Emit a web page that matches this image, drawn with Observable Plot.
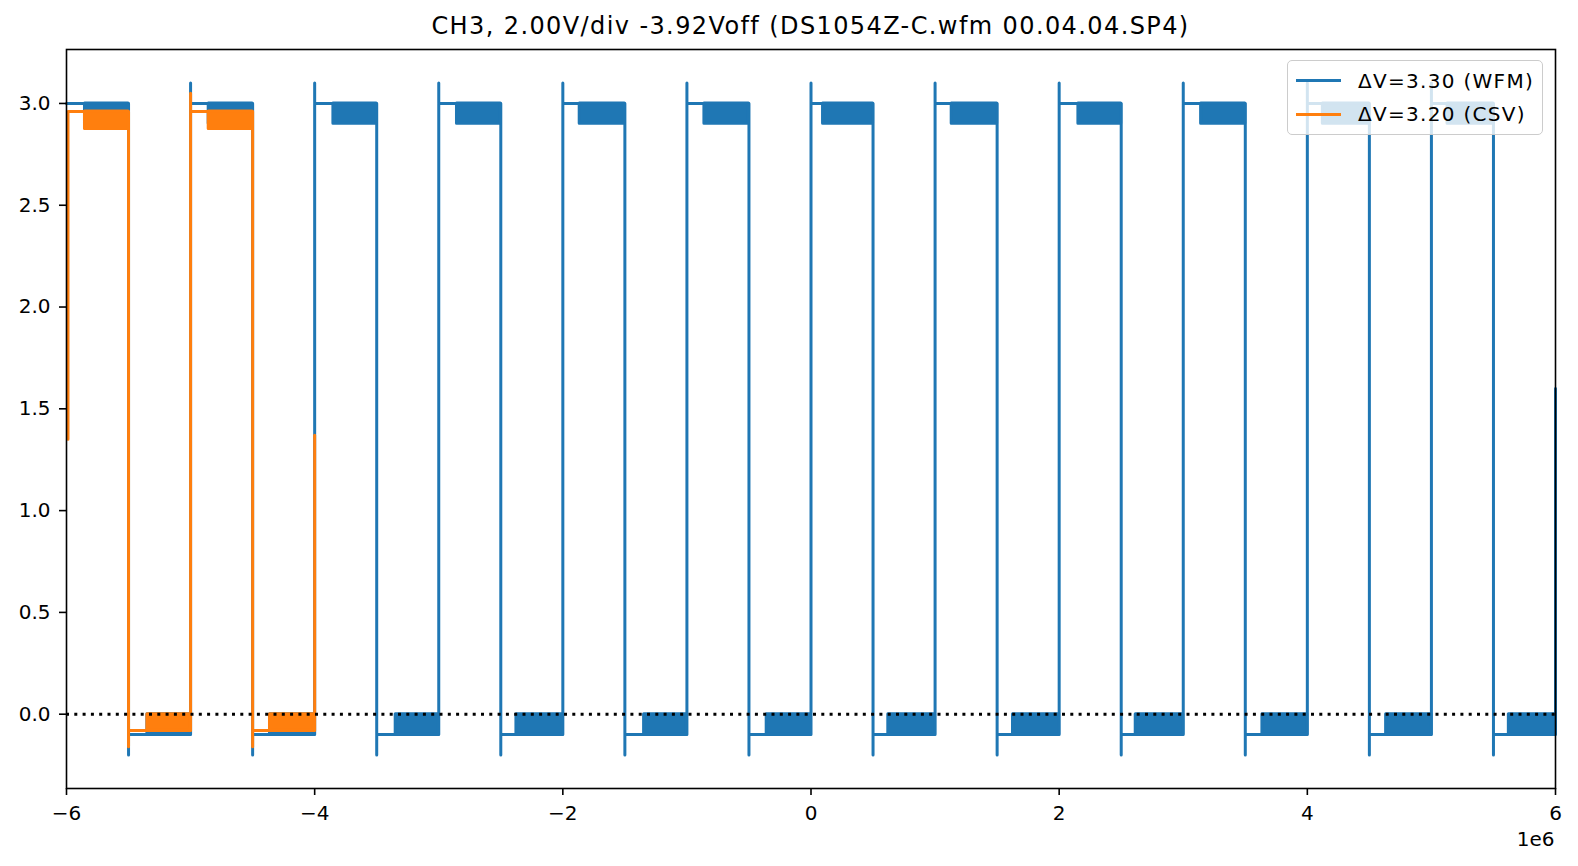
<!DOCTYPE html>
<html>
<head>
<meta charset="utf-8">
<script src="https://cdn.jsdelivr.net/npm/d3@7"></script>
<script src="https://cdn.jsdelivr.net/npm/@observablehq/plot@0.6"></script>
<style>
  body { margin: 0; background: #fff; font-family: "DejaVu Sans", sans-serif; }
  #wrap { position: relative; width: 1578px; height: 866px; overflow: hidden; }
  #chart { position: absolute; left: 0; top: 0; }
  #title { position: absolute; left: 66px; width: 1489px; top: 12px; line-height: 28px; font-size: 24px; letter-spacing: 1.4px; text-align: center; color: #000; white-space: nowrap; }
  #legend { position: absolute; left: 1287px; top: 60px; width: 256px; height: 75px; box-sizing: border-box;
            background: rgba(255,255,255,0.8); border: 1.5px solid #cccccc; border-radius: 5px; }
  .lg-line { position: absolute; left: 8px; width: 45px; height: 3px; }
  .lg-text { position: absolute; left: 70px; font-size: 20px; letter-spacing: 1.3px; line-height: 24px; color: #000; white-space: nowrap; }
</style>
</head>
<body>
<div id="wrap">
  <div id="chart"></div>
  <div id="title"></div>
  <div id="legend"></div>
</div>
<script>
// ---------------- data (x values in units of 1e6) ----------------
const X_UNIT = 1e6;
const titleText = "CH3, 2.00V/div -3.92Voff (DS1054Z-C.wfm 00.04.04.SP4)";
const seriesLabels = ["\u0394V=3.30 (WFM)", "\u0394V=3.20 (CSV)"];
const seriesColors = ["#1f77b4", "#ff7f0e"];

const xTicks = [-6, -4, -2, 0, 2, 4, 6];
const yTicks = [0.0, 0.5, 1.0, 1.5, 2.0, 2.5, 3.0];
const xDomain = [-6, 6];
const yDomain = [-0.365, 3.265];

// WFM trace
const wfmStart = [-6, null];
const wfmFall = [-5.5, -4.5, -3.5, -2.5, -1.5, -0.5, 0.5, 1.5, 2.5, 3.5, 4.5, 5.5];
const wfmRise = [-5, -4, -3, -2, -1, 0, 1, 2, 3, 4, 5, 6];
const wfmHighBandStart = [-5.851, -4.854, -3.849, -2.853, -1.864, -0.859, 0.097, 1.134, 2.155, 3.144, 4.125, 5.13];
const wfmLowBandStart = [-5.348, -4.36, -3.347, -2.374, -1.345, -0.357, 0.623, 1.628, 2.617, 3.638, 4.635, 5.624];
const wfmLevels = [3.0, 2.9, -0.1, 0.0];   // high, high-band bottom, low, low-band top
const wfmSpikes = [3.1, -0.2];             // overshoot, undershoot
const wfmEndValue = 1.6;

// CSV trace
const csvStart = [-5.988, 1.35];
const csvFall = [-5.5, -4.5];
const csvRise = [-5.0, -4.0];
const csvHighBandStart = [-5.851, -4.854];
const csvLowBandStart = [-5.348, -4.36];
const csvLevels = [2.96, 2.875, -0.08, 0.0];
const csvSpikes = [3.05, -0.16];
const csvEndValue = 1.37;

// ---------------- build tables ----------------
function buildTrace(start, falls, rises, levels, spikes, endValue) {
  const [hi, , lo] = levels;
  const [over, under] = spikes;
  const pts = [];
  if (start[1] != null) pts.push({x: start[0], y: start[1]});
  pts.push({x: start[0], y: hi});
  falls.forEach((f, i) => {
    pts.push({x: f, y: hi}, {x: f, y: under}, {x: f, y: lo});
    const r = rises[i];
    pts.push({x: r, y: lo});
    if (i === falls.length - 1) pts.push({x: r, y: endValue});
    else pts.push({x: r, y: over}, {x: r, y: hi});
  });
  return pts.map(p => ({x: p.x * X_UNIT, y: p.y}));
}
function buildBands(falls, rises, highStart, lowStart, levels) {
  const [hi, hib, lo, lot] = levels;
  const bands = [];
  falls.forEach((f, i) => {
    bands.push({x1: highStart[i] * X_UNIT, x2: f * X_UNIT, y1: hib, y2: hi});
    bands.push({x1: lowStart[i] * X_UNIT, x2: rises[i] * X_UNIT, y1: lo, y2: lot});
  });
  return bands;
}

const wfmTrace = buildTrace(wfmStart, wfmFall, wfmRise, wfmLevels, wfmSpikes, wfmEndValue);
const wfmBands = buildBands(wfmFall, wfmRise, wfmHighBandStart, wfmLowBandStart, wfmLevels);
const csvTrace = buildTrace(csvStart, csvFall, csvRise, csvLevels, csvSpikes, csvEndValue);
const csvBands = buildBands(csvFall, csvRise, csvHighBandStart, csvLowBandStart, csvLevels);

const LW = 3;
const minus = s => String(s).replace("-", "\u2212");

const chart = Plot.plot({
  width: 1578,
  height: 866,
  marginLeft: 66,
  marginRight: 23,
  marginTop: 49,
  marginBottom: 78,
  style: {fontFamily: "DejaVu Sans", fontSize: "20px", color: "#000", background: "#fff", overflow: "visible"},
  x: {domain: xDomain.map(d => d * X_UNIT)},
  y: {domain: yDomain},
  marks: [
    Plot.line(wfmTrace, {x: "x", y: "y", stroke: seriesColors[0], strokeWidth: LW, strokeLinejoin: "round", strokeLinecap: "round"}),
    Plot.rect(wfmBands, {x1: "x1", x2: "x2", y1: "y1", y2: "y2", fill: seriesColors[0], stroke: seriesColors[0], strokeWidth: LW, strokeLinejoin: "round"}),
    Plot.line(csvTrace, {x: "x", y: "y", stroke: seriesColors[1], strokeWidth: LW, strokeLinejoin: "round", strokeLinecap: "round"}),
    Plot.rect(csvBands, {x1: "x1", x2: "x2", y1: "y1", y2: "y2", fill: seriesColors[1], stroke: seriesColors[1], strokeWidth: LW, strokeLinejoin: "round"}),
    Plot.ruleY([0], {stroke: "#000", strokeWidth: 3, strokeDasharray: "3,5.3"}),
    Plot.axisX(xTicks.map(t => t * X_UNIT), {tickSize: 7, tickPadding: 10, strokeWidth: 1.6, fontSize: 20, label: null,
      tickFormat: d => minus(d / X_UNIT)}),
    Plot.axisY(yTicks, {tickSize: 7, tickPadding: 9, strokeWidth: 1.6, fontSize: 20, label: null,
      tickFormat: d => minus(d.toFixed(1))}),
    Plot.text(["1e6"], {frameAnchor: "bottom-right", dy: 51, dx: -1, textAnchor: "end", lineAnchor: "middle", fontSize: 20, fill: "#000"}),
    Plot.frame({stroke: "#000", strokeWidth: 1.6})
  ]
});
document.getElementById("chart").appendChild(chart);
document.getElementById("title").textContent = titleText;

const legend = document.getElementById("legend");
const rowLineTop = [19, 53];
const rowTextTop = [8, 41];
seriesLabels.forEach((lab, i) => {
  const ln = document.createElement("div");
  ln.className = "lg-line";
  ln.style.top = (rowLineTop[i] - 1.5) + "px";
  ln.style.background = seriesColors[i];
  legend.appendChild(ln);
  const tx = document.createElement("div");
  tx.className = "lg-text";
  tx.style.top = rowTextTop[i] + "px";
  tx.textContent = lab;
  legend.appendChild(tx);
});
</script>
</body>
</html>
